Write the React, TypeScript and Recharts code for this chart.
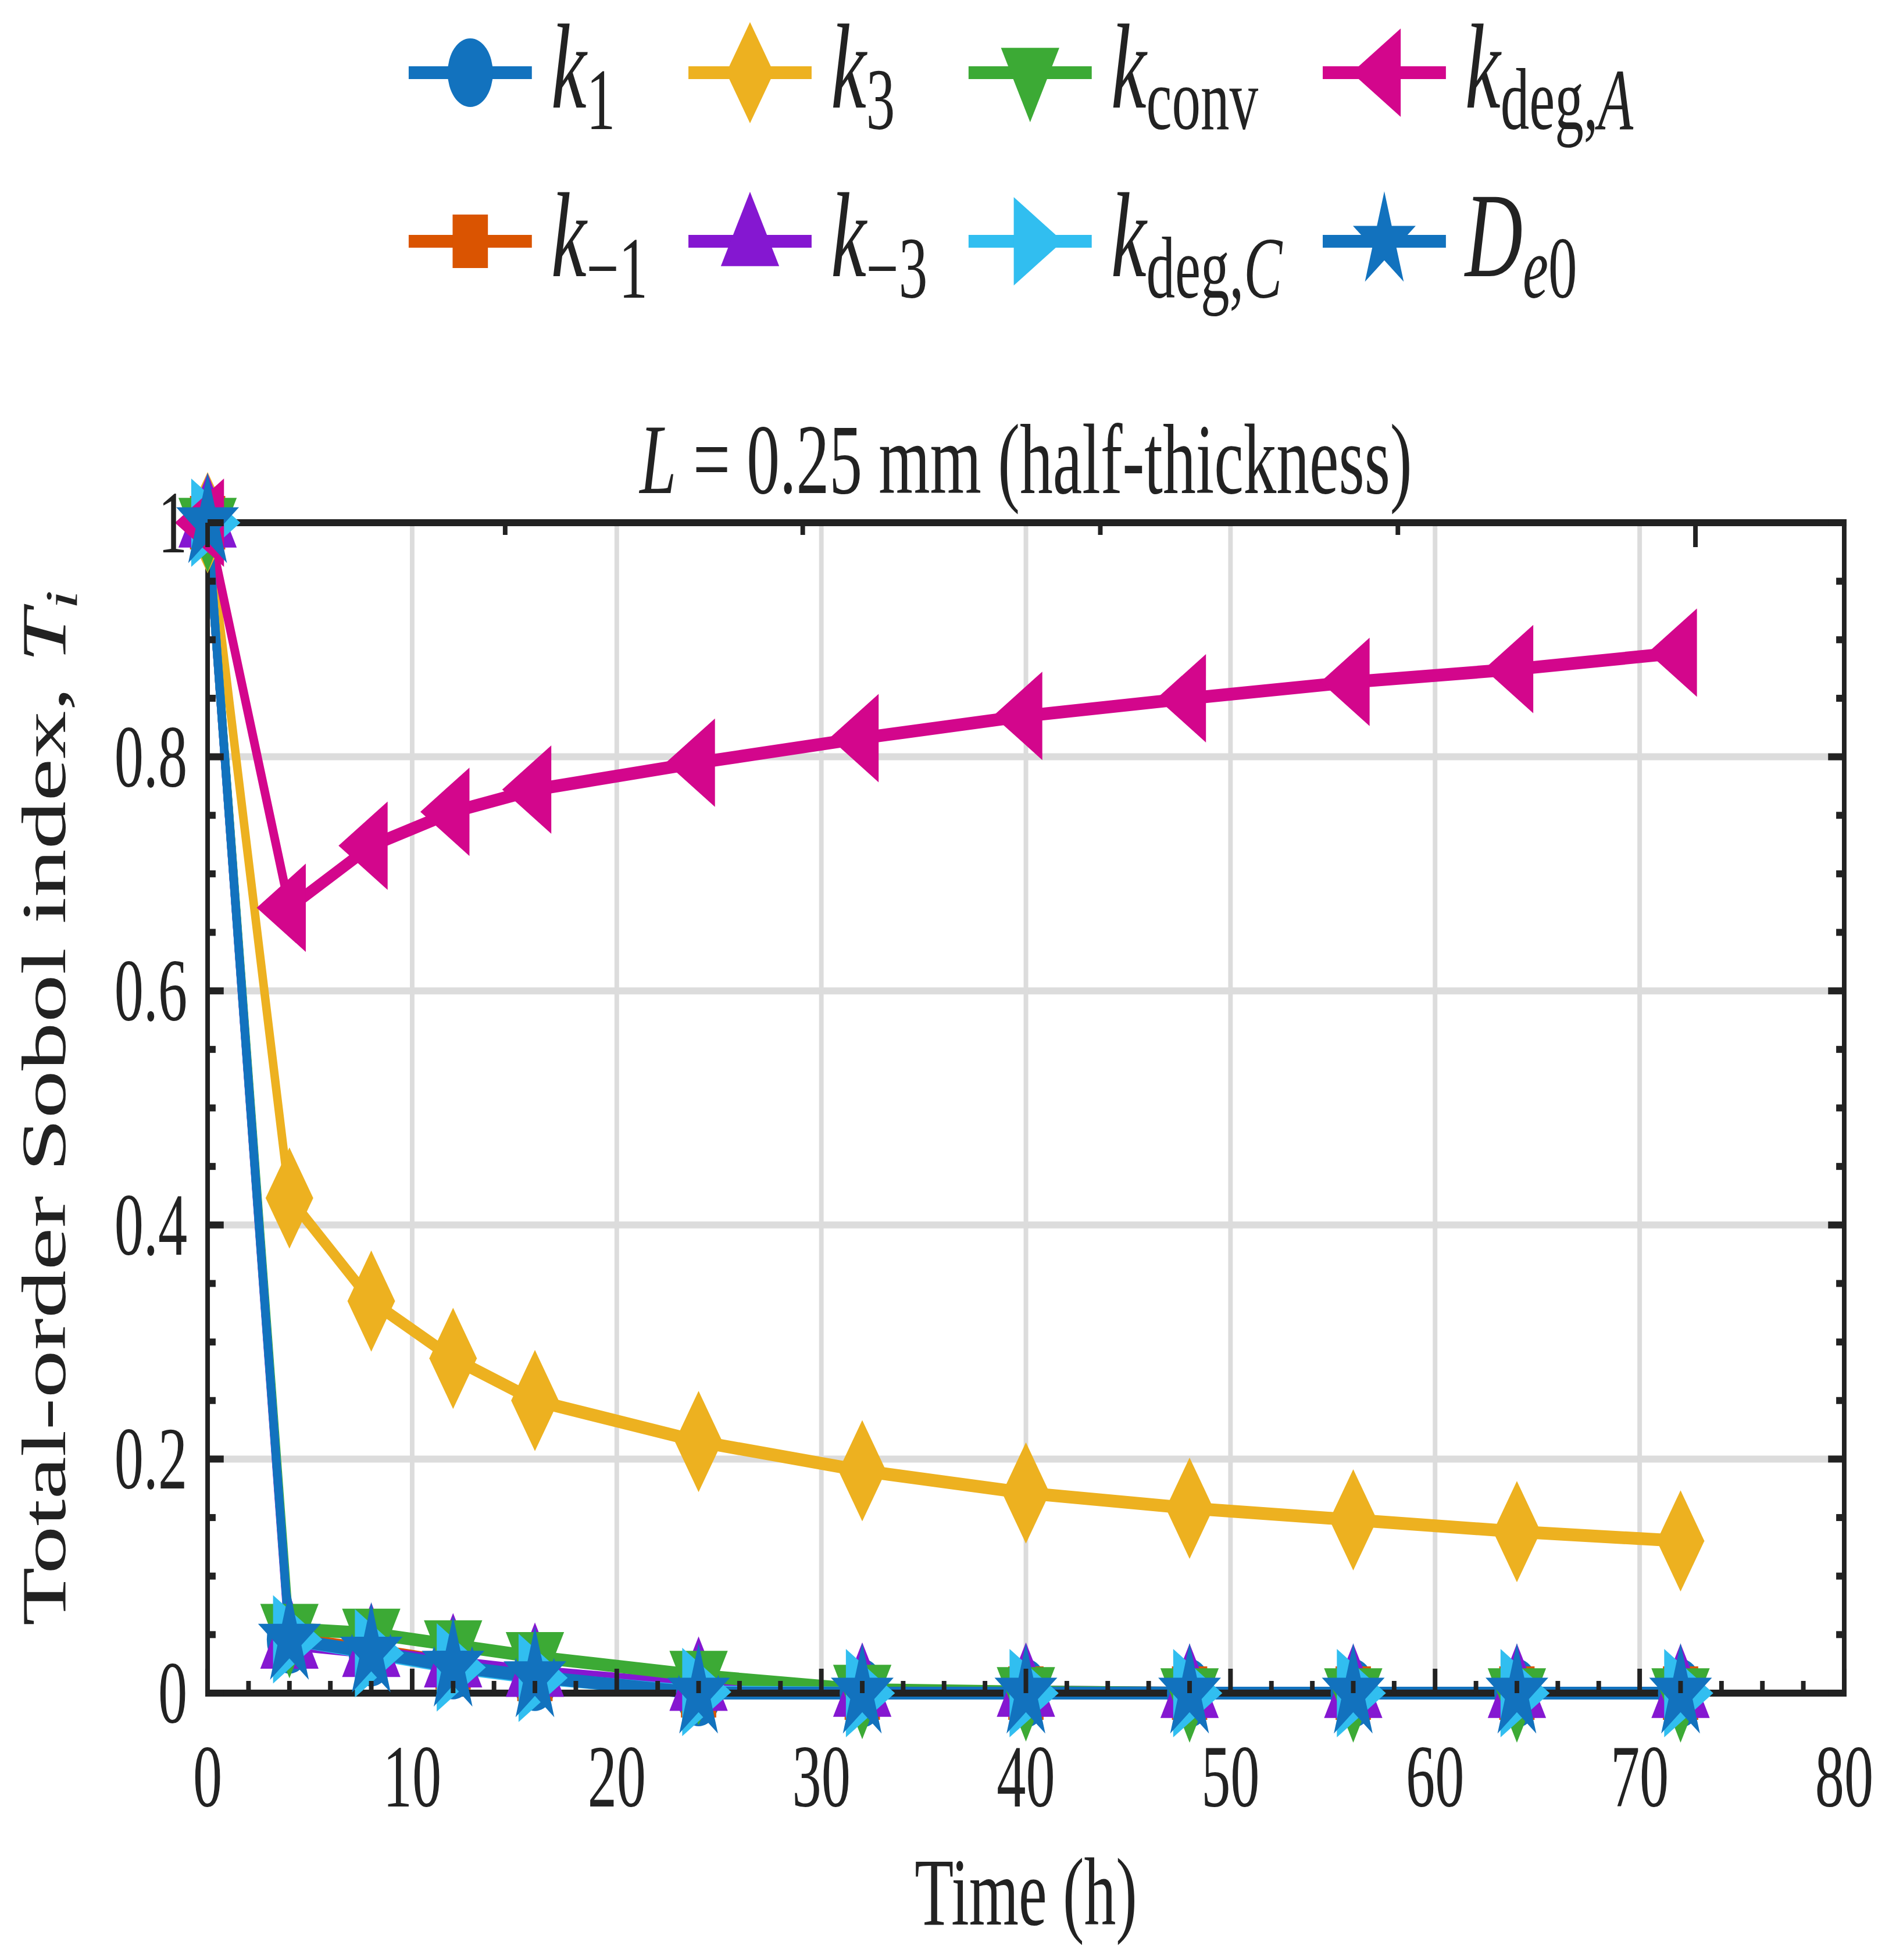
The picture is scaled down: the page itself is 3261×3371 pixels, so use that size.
import { LineChart, Line, XAxis, YAxis, CartesianGrid, Legend, Label } from 'recharts'

// The figure is laid out wide and then narrowed horizontally as a whole,
// which gives the condensed lettering and the tall markers.
const SQUEEZE = 0.66
const OUT_W = 3261
const OUT_H = 3371
const CHART_W = Math.round(OUT_W / SQUEEZE)
const CHART_H = OUT_H

const FONT = '"Liberation Serif", "Times New Roman", Times, serif'
const INK = '#222222'
const GRID = '#dcdcdc'

// sampling times (h)
const hours = [0, 4, 8, 12, 16, 24, 32, 40, 48, 56, 64, 72]

// total-order Sobol indices per parameter
const k1Values = [1, 0.046, 0.035, 0.024, 0.014, 0.001, 0, 0, 0, 0, 0, 0]
const kMinus1Values = [1, 0.047, 0.037, 0.026, 0.016, 0.002, 0, 0, 0, 0, 0, 0]
const k3Values = [1, 0.423, 0.335, 0.286, 0.25, 0.215, 0.19, 0.171, 0.158, 0.148, 0.138, 0.13]
const kMinus3Values = [1, 0.042, 0.035, 0.026, 0.018, 0.006, 0.001, 0.001, 0, 0, 0, 0]
const kConvValues = [1, 0.055, 0.051, 0.041, 0.031, 0.015, 0.003, 0.001, 0, 0, 0, 0]
const kDegCValues = [1, 0.046, 0.034, 0.022, 0.013, 0.001, 0, 0, 0, 0, 0, 0]
const kDegAValues = [1, 0.671, 0.724, 0.753, 0.772, 0.795, 0.816, 0.835, 0.85, 0.864, 0.875, 0.889]
const de0Values = [1, 0.046, 0.035, 0.023, 0.014, 0, 0, 0, 0, 0, 0, 0]

// axis ticks
const xMajor = [0, 10, 20, 30, 40, 50, 60, 70, 80]
const xMajorLabels = ['0', '10', '20', '30', '40', '50', '60', '70', '80']
const yMajor = [0, 0.2, 0.4, 0.6, 0.8, 1]
const yMajorLabels = ['0', '0.2', '0.4', '0.6', '0.8', '1']
const X_MINOR_PER_MAJOR = 5
const Y_MINOR_PER_MAJOR = 4

const xTicks = xMajor.slice(0, -1).flatMap((v, i) =>
  Array.from({ length: X_MINOR_PER_MAJOR }, (_, j) => v + ((xMajor[i + 1] - v) * j) / X_MINOR_PER_MAJOR)
).concat(xMajor[xMajor.length - 1])
const yTicks = yMajor.slice(0, -1).flatMap((v, i) =>
  Array.from({ length: Y_MINOR_PER_MAJOR }, (_, j) => +(v + ((yMajor[i + 1] - v) * j) / Y_MINOR_PER_MAJOR).toFixed(4))
).concat(yMajor[yMajor.length - 1])
const xGridValues = xMajor.slice(1, -1)
const yGridValues = yMajor.slice(1, -1)

type MarkerKind = 'circle' | 'square' | 'diamond' | 'up' | 'down' | 'left' | 'right' | 'star'

interface LabelPart {
  text: string
  italic?: boolean
  sub?: boolean
}

interface SeriesInfo {
  key: string
  color: string
  marker: MarkerKind
  values: number[]
  label: LabelPart[]
}

const series: SeriesInfo[] = [
  { key: 'k1', color: '#1272be', marker: 'circle', values: k1Values,
    label: [{ text: 'k', italic: true }, { text: '1', sub: true }] },
  { key: 'kMinus1', color: '#da5401', marker: 'square', values: kMinus1Values,
    label: [{ text: 'k', italic: true }, { text: '\u22121', sub: true }] },
  { key: 'k3', color: '#edb120', marker: 'diamond', values: k3Values,
    label: [{ text: 'k', italic: true }, { text: '3', sub: true }] },
  { key: 'kMinus3', color: '#8517d1', marker: 'up', values: kMinus3Values,
    label: [{ text: 'k', italic: true }, { text: '\u22123', sub: true }] },
  { key: 'kConv', color: '#3caa35', marker: 'down', values: kConvValues,
    label: [{ text: 'k', italic: true }, { text: 'conv', sub: true }] },
  { key: 'kDegC', color: '#31bef0', marker: 'right', values: kDegCValues,
    label: [{ text: 'k', italic: true }, { text: 'deg,', sub: true }, { text: 'C', sub: true, italic: true }] },
  { key: 'kDegA', color: '#d3068c', marker: 'left', values: kDegAValues,
    label: [{ text: 'k', italic: true }, { text: 'deg,', sub: true }, { text: 'A', sub: true, italic: true }] },
  { key: 'de0', color: '#1272be', marker: 'star', values: de0Values,
    label: [{ text: 'D', italic: true }, { text: 'e', sub: true, italic: true }, { text: '0', sub: true }] }
]

const rows = hours.map((t, i) => {
  const row: Record<string, number> = { t }
  series.forEach((s) => {
    row[s.key] = s.values[i]
  })
  return row
})

// plot box and decoration sizes
const LINE_W = 22
const AXIS_W = 12
const MAJOR_TICK = 42
const MINOR_TICK = 21
const PLOT_LEFT = 541
const PLOT_TOP = 899
const RIGHT_GAP = 135
const BOTTOM_GAP = 459
const Y_LEFT_W = 400
const Y_RIGHT_W = 40
const X_TOP_H = 40
const X_BOTTOM_H = 300

const TICK_FONT = 152
const TITLE_FONT = 172
const XLABEL_FONT = 166
const LEGEND_FONT = 208
const LEGEND_SUB_FONT = 150

const AXIS_LINE = { stroke: INK, strokeWidth: AXIS_W, strokeLinecap: 'square' as const }

const isMajor = (majors: number[], v: number) => majors.some((m) => Math.abs(m - v) < 1e-6)
const majorIndex = (majors: number[], v: number) => majors.findIndex((m) => Math.abs(m - v) < 1e-6)

function Marker({ kind, cx, cy, color }: { kind: MarkerKind; cx: number; cy: number; color: string }) {
  const base = 152
  const depth = 128
  const near = depth / 3
  const far = (2 * depth) / 3
  switch (kind) {
    case 'circle':
      return <circle cx={cx} cy={cy} r={59} fill={color} />
    case 'square':
      return <rect x={cx - 46} y={cy - 46} width={92} height={92} fill={color} />
    case 'diamond':
      return <polygon points={`${cx},${cy - 87} ${cx + 62},${cy} ${cx},${cy + 87} ${cx - 62},${cy}`} fill={color} />
    case 'up':
      return <polygon points={`${cx},${cy - far} ${cx + base / 2},${cy + near} ${cx - base / 2},${cy + near}`} fill={color} />
    case 'down':
      return <polygon points={`${cx},${cy + far} ${cx + base / 2},${cy - near} ${cx - base / 2},${cy - near}`} fill={color} />
    case 'right':
      return <polygon points={`${cx + far},${cy} ${cx - near},${cy - base / 2} ${cx - near},${cy + base / 2}`} fill={color} />
    case 'left':
      return <polygon points={`${cx - far},${cy} ${cx + near},${cy - base / 2} ${cx + near},${cy + base / 2}`} fill={color} />
    case 'star': {
      const R = 86
      const r = R * 0.382
      const pts = Array.from({ length: 10 }, (_, k) => {
        const a = (-90 + k * 36) * (Math.PI / 180)
        const rad = k % 2 === 0 ? R : r
        return `${cx + rad * Math.cos(a)},${cy + rad * Math.sin(a)}`
      })
      return <polygon points={pts.join(' ')} fill={color} />
    }
  }
  return null
}

function renderParts(parts: LabelPart[], subFont: number, subShift: number) {
  let inSub = false
  return parts.map((p, i) => {
    let dy: number | undefined
    if (p.sub && !inSub) dy = subShift
    if (!p.sub && inSub) dy = -subShift
    inSub = !!p.sub
    return (
      <tspan key={i} dy={dy} fontStyle={p.italic ? 'italic' : 'normal'} fontSize={p.sub ? subFont : undefined}>
        {p.text}
      </tspan>
    )
  })
}

// legend: four columns, filled top-to-bottom
const LEGEND_H = 560
const legendColX = [1065, 1794, 2524, 3447]
const legendRowY = [125, 415]
const LEGEND_LINE = 321
const LEGEND_TEXT_DX = 371

function LegendBlock() {
  return (
    <svg width={CHART_W} height={LEGEND_H} style={{ display: 'block' }}>
      {series.map((s, i) => {
        const x0 = legendColX[Math.floor(i / 2)]
        const y0 = legendRowY[i % 2]
        return (
          <g key={s.key}>
            <line x1={x0} x2={x0 + LEGEND_LINE} y1={y0} y2={y0} stroke={s.color} strokeWidth={LINE_W} />
            <Marker kind={s.marker} cx={x0 + LEGEND_LINE / 2} cy={y0} color={s.color} />
            <text x={x0 + LEGEND_TEXT_DX} y={y0 + 60} fontFamily={FONT} fontSize={LEGEND_FONT} fill={INK}>
              {renderParts(s.label, LEGEND_SUB_FONT, 37)}
            </text>
          </g>
        )
      })}
    </svg>
  )
}

function BottomTick(props: any) {
  const { x, y, payload } = props
  const major = isMajor(xMajor, payload.value)
  return (
    <g>
      <line x1={x} x2={x} y1={y} y2={y - (major ? MAJOR_TICK : MINOR_TICK)} stroke={INK} strokeWidth={AXIS_W} />
      {major && (
        <text x={x} y={y + 195} textAnchor="middle" fontFamily={FONT} fontSize={TICK_FONT} fill={INK}>
          {xMajorLabels[majorIndex(xMajor, payload.value)]}
        </text>
      )}
    </g>
  )
}

function TopTick(props: any) {
  const { x, y, payload } = props
  const major = isMajor(xMajor, payload.value)
  return <line x1={x} x2={x} y1={y} y2={y + (major ? MAJOR_TICK : MINOR_TICK)} stroke={INK} strokeWidth={AXIS_W} />
}

function LeftTick(props: any) {
  const { x, y, payload } = props
  const major = isMajor(yMajor, payload.value)
  return (
    <g>
      <line x1={x} x2={x + (major ? MAJOR_TICK : MINOR_TICK)} y1={y} y2={y} stroke={INK} strokeWidth={AXIS_W} />
      {major && (
        <text x={x - 53} y={y + 51} textAnchor="end" fontFamily={FONT} fontSize={TICK_FONT} fill={INK}>
          {yMajorLabels[majorIndex(yMajor, payload.value)]}
        </text>
      )}
    </g>
  )
}

function RightTick(props: any) {
  const { x, y, payload } = props
  const major = isMajor(yMajor, payload.value)
  return <line x1={x} x2={x - (major ? MAJOR_TICK : MINOR_TICK)} y1={y} y2={y} stroke={INK} strokeWidth={AXIS_W} />
}

function PlotTitle(props: any) {
  const { x, y, width, height } = props.viewBox
  return (
    <text x={x + width / 2} y={y + height - 51} textAnchor="middle" fontFamily={FONT} fontSize={TITLE_FONT} fill={INK}>
      <tspan fontStyle="italic">L</tspan>
      <tspan> = 0.25 mm (half-thickness)</tspan>
    </text>
  )
}

function TimeTitle(props: any) {
  const { x, y, width } = props.viewBox
  return (
    <text x={x + width / 2} y={y + 398} textAnchor="middle" fontFamily={FONT} fontSize={XLABEL_FONT} fill={INK}>
      Time (h)
    </text>
  )
}

function SobolTitle(props: any) {
  const { x, y, width, height } = props.viewBox
  const cx = x + width - 371
  const cy = y + height / 2
  return (
    <text x={cx} y={cy} transform={`rotate(-90 ${cx} ${cy})`} textAnchor="middle" fontFamily={FONT} fontSize={165} fill={INK}>
      {renderParts(
        [{ text: 'Total-order Sobol index, ' }, { text: 'T', italic: true }, { text: 'i', italic: true, sub: true }],
        120,
        30
      )}
    </text>
  )
}

export default function App() {
  return (
    <div style={{ position: 'absolute', left: 0, top: 0, width: OUT_W, height: OUT_H, overflow: 'hidden', background: '#fff' }}>
      <div style={{ width: CHART_W, height: CHART_H, transform: `scaleX(${SQUEEZE})`, transformOrigin: '0 0' }}>
        <LineChart
          width={CHART_W}
          height={CHART_H}
          data={rows}
          margin={{
            top: PLOT_TOP - X_TOP_H,
            right: RIGHT_GAP - Y_RIGHT_W,
            bottom: BOTTOM_GAP - X_BOTTOM_H,
            left: PLOT_LEFT - Y_LEFT_W
          }}
        >
          <CartesianGrid verticalValues={xGridValues} horizontalValues={yGridValues} stroke={GRID} strokeWidth={12} />
          <XAxis
            dataKey="t"
            type="number"
            domain={[0, 80]}
            ticks={xTicks}
            interval={0}
            height={X_BOTTOM_H}
            tickLine={false}
            tickSize={0}
            tickMargin={0}
            axisLine={AXIS_LINE}
            tick={(p: any) => <BottomTick {...p} />}
          >
            <Label content={TimeTitle} />
          </XAxis>
          <XAxis
            xAxisId="top"
            orientation="top"
            type="number"
            domain={[0, 80]}
            allowDataOverflow
            ticks={xTicks}
            interval={0}
            height={X_TOP_H}
            tickLine={false}
            tickSize={0}
            tickMargin={0}
            axisLine={AXIS_LINE}
            tick={(p: any) => <TopTick {...p} />}
          >
            <Label content={PlotTitle} />
          </XAxis>
          <YAxis
            type="number"
            domain={[0, 1]}
            ticks={yTicks}
            interval={0}
            width={Y_LEFT_W}
            tickLine={false}
            tickSize={0}
            tickMargin={0}
            axisLine={AXIS_LINE}
            tick={(p: any) => <LeftTick {...p} />}
          >
            <Label content={SobolTitle} />
          </YAxis>
          <YAxis
            yAxisId="right"
            orientation="right"
            type="number"
            domain={[0, 1]}
            allowDataOverflow
            ticks={yTicks}
            interval={0}
            width={Y_RIGHT_W}
            tickLine={false}
            tickSize={0}
            tickMargin={0}
            axisLine={AXIS_LINE}
            tick={(p: any) => <RightTick {...p} />}
          />
          <Legend
            layout="vertical"
            align="center"
            verticalAlign="middle"
            wrapperStyle={{ left: 0, top: 0, width: CHART_W, height: LEGEND_H }}
            content={() => <LegendBlock />}
          />
          {series.map((s) => (
            <Line
              key={s.key}
              type="linear"
              dataKey={s.key}
              stroke={s.color}
              strokeWidth={LINE_W}
              dot={(p: any) => <Marker key={`${s.key}-${p.index}`} kind={s.marker} cx={p.cx} cy={p.cy} color={s.color} />}
              activeDot={false}
              isAnimationActive={false}
            />
          ))}
        </LineChart>
      </div>
    </div>
  )
}
